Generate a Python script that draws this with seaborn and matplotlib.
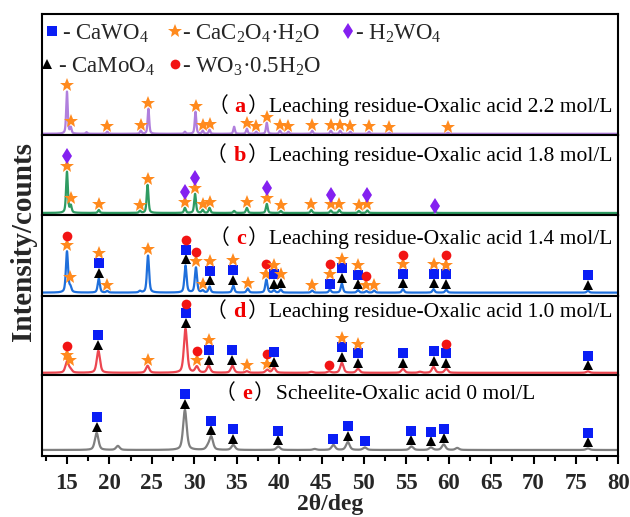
import numpy as np
import pandas as pd
import matplotlib
matplotlib.use("Agg")
import matplotlib.pyplot as plt
import seaborn as sns
from matplotlib.ticker import MultipleLocator
from matplotlib.offsetbox import TextArea, HPacker, AnchoredOffsetbox

sns.set_theme(style="white")
plt.rcParams["font.family"] = ["Liberation Serif", "Noto Sans CJK SC", "DejaVu Sans"]
plt.rcParams["mathtext.fontset"] = "custom"
plt.rcParams["mathtext.rm"] = "Liberation Serif"
plt.rcParams["mathtext.it"] = "Liberation Serif:italic"
plt.rcParams["mathtext.bf"] = "Liberation Serif:bold"

# ---------------------------------------------------------------- data
# peak tables: position (2theta, deg), height (counts), FWHM (deg)
a_pos = [15.0, 15.45, 17.3, 19.75, 23.7, 24.6, 28.9, 30.15, 31.0, 31.8, 34.7, 36.2, 37.3,
         38.55, 40.1, 41.1, 43.9, 46.1, 47.2, 48.4, 50.6, 53.0, 59.9]
a_int = [42, 6, 1.5, 2, 3, 25, 2, 22, 3, 4, 7, 5, 2, 11, 3, 2, 3, 3, 3, 2, 2, 1, 1]
a_fwhm = 0.22

b_pos = [15.0, 15.45, 18.75, 23.6, 24.5, 28.9, 30.1, 31.0, 31.8, 34.7, 36.2, 38.55, 40.2,
         43.8, 46.1, 47.1, 49.4, 50.4, 58.4]
b_int = [41, 7, 3, 2, 28, 5, 19, 3, 5, 2, 5, 9, 2, 3, 2.5, 3, 2, 2.5, 1]
b_fwhm = 0.25

c_pos = [15.0, 15.4, 18.75, 19.75, 23.6, 24.55, 28.97, 30.2, 31.0, 31.8, 34.6, 36.3, 38.5,
         39.4, 40.2, 43.9, 46.0, 47.4, 49.3, 50.3, 51.2, 54.6, 58.2, 59.7, 76.4]
c_int = [41, 5, 14, 1.5, 1.5, 37, 27, 25, 2, 6, 7, 4, 13, 2.5, 3, 2, 3, 9, 2.5, 1.5, 2,
         3.5, 3.5, 3, 2]
c_fwhm = 0.3

d_pos = [15.0, 15.4, 18.7, 24.5, 28.97, 30.3, 31.7, 34.5, 36.2, 38.6, 39.4, 43.8, 45.9,
         47.4, 49.3, 54.6, 56.6, 58.2, 59.7, 76.4]
d_int = [11, 3, 22, 7, 44, 6, 7, 7, 1.5, 3, 5, 1, 1.5, 10, 4, 4, 1, 6, 4, 1.5]
d_fwhm = 0.45

e_pos = [18.5, 21.0, 28.9, 31.6, 32.0, 34.6, 39.9, 44.2, 46.4, 48.1, 50.1, 55.6, 57.9,
         59.4, 61.0, 76.4]
e_int = [17, 4, 40, 3, 13, 5, 3.5, 1, 5, 8, 2.5, 3.5, 2.5, 5.5, 2, 1.5]
e_fwhm = 0.5

# phase markers above peaks, listed bottom -> top
#   s: CaWO4   *: CaC2O4.H2O   d: H2WO4   ^: CaMoO4   o: WO3.0.5H2O
a_mark_pos = [15.0, 15.45, 19.75, 23.7, 24.6, 30.15, 31.0, 31.8, 36.2, 37.3, 38.55, 40.1,
              41.1, 43.9, 46.1, 47.2, 48.4, 50.6, 53.0, 59.9]
a_mark_ids = ["*"] * 20

b_mark_pos = [15.0, 15.45, 18.75, 23.6, 24.5, 28.9, 30.1, 31.0, 31.8, 36.2, 38.55, 40.2,
              43.8, 46.1, 47.1, 49.4, 50.4, 58.4]
b_mark_ids = ["*d", "*", "*", "*", "*", "*d", "*d", "*", "*", "*", "*d", "*",
              "*", "*d", "*", "*", "*d", "d"]

c_mark_pos = [15.0, 15.4, 18.75, 19.75, 24.55, 28.97, 30.2, 31.0, 31.8, 34.6, 36.3, 38.5,
              39.4, 40.2, 43.9, 46.0, 47.4, 49.3, 50.3, 51.2, 54.6, 58.2, 59.7, 76.4]
c_mark_ids = ["*o", "*", "^s*", "*", "*", "^so", "*o", "*", "^s*", "^s*", "*", "*o",
              "^s*", "^*", "*", "s*o", "^s*", "^s*", "*o", "*", "^s*o", "^s*", "^s*o", "^s"]

d_mark_pos = [15.0, 15.4, 18.7, 24.5, 28.97, 30.3, 31.7, 34.5, 36.2, 38.6, 39.4, 45.9,
              47.4, 49.3, 54.6, 58.2, 59.7, 76.4]
d_mark_ids = ["*o", "*", "^s", "*", "^so", "*o", "^s*", "^s", "*", "*o", "^s", "o",
              "^s*", "^s*", "^s", "^s", "^so", "^s"]

e_mark_pos = [18.5, 28.9, 32.0, 34.6, 39.9, 46.4, 48.1, 50.1, 55.6, 57.9, 59.4, 76.4]
e_mark_ids = ["^s", "^s", "^s", "^s", "^s", "s", "^s", "s", "^s", "^s", "^s", "^s"]

panel_letters = ["a", "b", "c", "d", "e"]
panel_titles = ["Leaching residue-Oxalic acid 2.2 mol/L",
                "Leaching residue-Oxalic acid 1.8 mol/L",
                "Leaching residue-Oxalic acid 1.4 mol/L",
                "Leaching residue-Oxalic acid 1.0 mol/L",
                "Scheelite-Oxalic acid 0 mol/L"]

phase_codes = ["s", "*", "d", "^", "o"]
phase_labels = ["- CaWO$_4$", "- CaC$_2$O$_4$·H$_2$O", "- H$_2$WO$_4$",
                "- CaMoO$_4$", "- WO$_3$·0.5H$_2$O"]

x_ticks = [15, 20, 25, 30, 35, 40, 45, 50, 55, 60, 65, 70, 75, 80]

# ---------------------------------------------------------------- styles
W, H = 630, 517
line_colors = ["#B07FDD", "#2E9B62", "#1F6FDB", "#EC4650", "#7F7F7F"]
mark_style = {
    "s": dict(marker="s", color="#0A1EF5", ms=6.5),
    "*": dict(marker="*", color="#FF8A1E", ms=10),
    "d": dict(marker="d", color="#8420F0", ms=8),
    "^": dict(marker="^", color="black", ms=7),
    "o": dict(marker="o", color="#F21414", ms=7),
}
# key layout (pixels): marker centre x, text start x, row centre y
key_layout = {"s": (52, 62, 31), "*": (175, 182, 31), "d": (348, 355, 31),
              "^": (47, 58, 64), "o": (175, 182, 64)}
ylims = [(-1.5, 119.5), (-2.5, 77.5), (-3, 77), (-2, 77), (-6, 75)]
label_y = [0.245, 0.76, 0.72, 0.80, 0.77]
label_x = [0.99, 0.99, 0.99, 0.99, 0.855]

two_theta = np.linspace(12, 80, 6801)


def pattern(pos, inten, fwhm):
    """Pseudo-Voigt sum of the tabulated reflections."""
    y = np.zeros_like(two_theta)
    hw = fwhm / 2.0
    for p, h in zip(pos, inten):
        d = (two_theta - p) / hw
        y += h * (0.5 / (1 + d ** 2) + 0.5 * np.exp(-np.log(2) * d ** 2))
    return y


panels = [
    (a_pos, a_int, a_fwhm, a_mark_pos, a_mark_ids),
    (b_pos, b_int, b_fwhm, b_mark_pos, b_mark_ids),
    (c_pos, c_int, c_fwhm, c_mark_pos, c_mark_ids),
    (d_pos, d_int, d_fwhm, d_mark_pos, d_mark_ids),
    (e_pos, e_int, e_fwhm, e_mark_pos, e_mark_ids),
]

fig, axes = plt.subplots(5, 1, sharex=True, figsize=(6.3, 5.17), dpi=100,
                         gridspec_kw=dict(height_ratios=[121, 80, 80, 79, 81]))
fig.subplots_adjust(left=0.0659, right=0.9817, top=0.9729, bottom=0.118, hspace=0)

first_gap, step = 6.0, 9.5

for i, (ax, (pos, inten, fwhm, mpos, mids)) in enumerate(zip(axes, panels)):
    counts = pattern(pos, inten, fwhm)
    df = pd.DataFrame({"two_theta": two_theta, "counts": counts})
    sns.lineplot(data=df, x="two_theta", y="counts", ax=ax, color=line_colors[i],
                 lw=1.6, estimator=None, errorbar=None, sort=False)
    for mp, ids in zip(mpos, mids):
        near = (two_theta >= mp - 0.12) & (two_theta <= mp + 0.12)
        top = counts[near].max()
        for k, code in enumerate(ids):
            st = mark_style[code]
            ax.plot([mp], [top + first_gap + k * step], linestyle="none",
                    marker=st["marker"], color=st["color"], ms=st["ms"],
                    markeredgewidth=0, zorder=5)
    ax.set_ylim(*ylims[i])
    ax.set_xlim(12, 80)
    ax.set_yticks([])
    ax.set_ylabel("")
    ax.set_xlabel("")
    for sp in ax.spines.values():
        sp.set_color("black")
        sp.set_linewidth(1.5)

    parts = [
        TextArea("（ ", textprops=dict(family="Noto Sans CJK SC", size=15, color="black")),
        TextArea(panel_letters[i], textprops=dict(family="Liberation Serif", size=16,
                                                   weight="bold", color="#F00000")),
        TextArea("）", textprops=dict(family="Noto Sans CJK SC", size=15, color="black")),
        TextArea(panel_titles[i], textprops=dict(family="Liberation Serif", size=15.5,
                                                  color="black")),
    ]
    box = HPacker(children=parts, align="baseline", pad=0, sep=1)
    anch = AnchoredOffsetbox(loc="center right", child=box, pad=0, borderpad=0,
                             frameon=False, bbox_to_anchor=(label_x[i], label_y[i]),
                             bbox_transform=ax.transAxes)
    ax.add_artist(anch)

    if i < 4:
        ax.tick_params(axis="x", which="both", bottom=False, labelbottom=False)

# phase key in the top panel
for code, lab in zip(phase_codes, phase_labels):
    mx, tx, ry = key_layout[code]
    st = mark_style[code]
    fig.add_artist(plt.Line2D([mx / W], [1 - ry / H], transform=fig.transFigure,
                              linestyle="none", marker=st["marker"], color=st["color"],
                              ms=st["ms"], markeredgewidth=0))
    fig.text(tx / W, 1 - ry / H, lab, ha="left", va="center_baseline",
             family="Liberation Serif", size=16.5)

bottom = axes[-1]
bottom.set_xticks(x_ticks)
bottom.xaxis.set_minor_locator(MultipleLocator(2.5))
bottom.tick_params(axis="x", which="major", direction="out", length=6, width=1.5,
                   bottom=True, labelbottom=True, pad=6, color="black")
bottom.tick_params(axis="x", which="minor", direction="out", length=3.5, width=1.5,
                   bottom=True, color="black")
for lab in bottom.get_xticklabels():
    lab.set_fontfamily("Liberation Serif")
    lab.set_fontweight("bold")
    lab.set_fontsize(16.5)
bottom.set_xlabel("2θ/deg", family="Liberation Serif", weight="bold", size=17,
                  labelpad=0.5)

fig.text(0.038, 0.532, "Intensity/counts", rotation=90, ha="center", va="center",
         family="Liberation Serif", weight="bold", size=21)

fig.savefig("out.png", dpi=100)
